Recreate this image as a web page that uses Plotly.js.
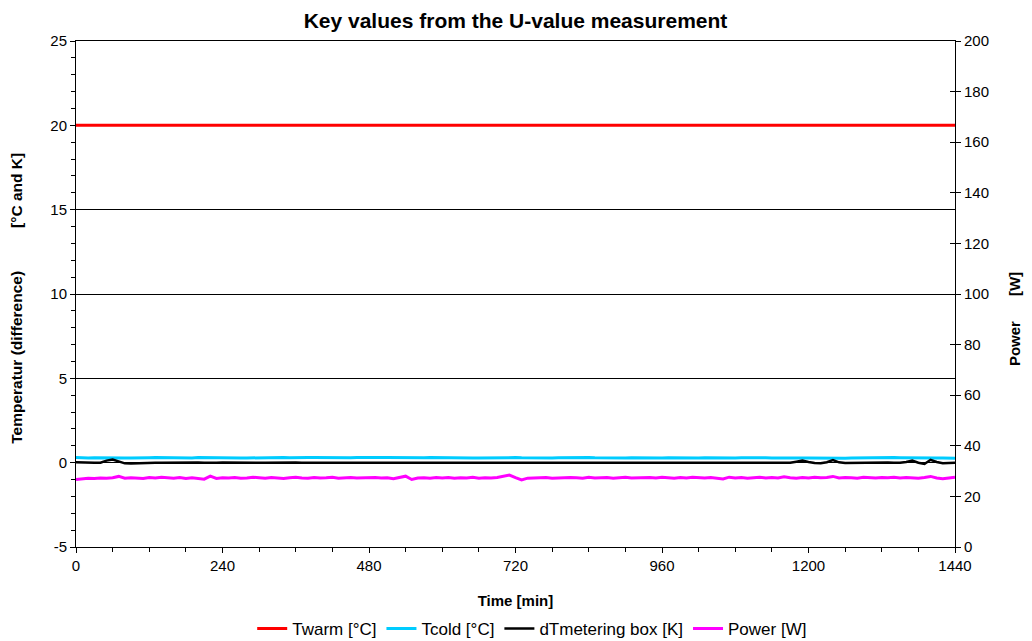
<!DOCTYPE html>
<html>
<head>
<meta charset="utf-8">
<script src="https://cdn.plot.ly/plotly-3.0.1.min.js"></script>
<style>html,body{margin:0;padding:0;background:#fff;}#chart{width:1032px;height:641px;}</style>
</head>
<body>
<div id="chart"></div>
<script>
const timeMin = [0,10,20,30,40,50,60,70,80,90,100,110,120,130,140,150,160,170,180,190,200,210,220,230,240,250,260,270,280,290,300,310,320,330,340,350,360,370,380,390,400,410,420,430,440,450,460,470,480,490,500,510,520,530,540,550,560,570,580,590,600,610,620,630,640,650,660,670,680,690,700,710,720,730,740,750,760,770,780,790,800,810,820,830,840,850,860,870,880,890,900,910,920,930,940,950,960,970,980,990,1000,1010,1020,1030,1040,1050,1060,1070,1080,1090,1100,1110,1120,1130,1140,1150,1160,1170,1180,1190,1200,1210,1220,1230,1240,1250,1260,1270,1280,1290,1300,1310,1320,1330,1340,1350,1360,1370,1380,1390,1400,1410,1420,1430,1440];

const twarm = [20.00,20.01,19.99,20.00,20.01,20.00,19.99,20.00,20.01,20.00,20.00,19.99,20.01,20.00,20.00,20.01,19.99,20.00,20.00,20.01,20.00,19.99,20.00,20.01,20.00,20.00,20.01,19.99,20.00,20.00,20.01,20.00,19.99,20.00,20.01,20.00,20.00,19.99,20.01,20.00,20.00,20.01,19.99,20.00,20.00,20.01,20.00,19.99,20.00,20.01,20.00,20.00,19.99,20.01,20.00,20.02,20.00,19.99,20.00,20.01,20.00,20.00,19.99,20.01,20.00,20.00,20.01,19.99,20.00,20.00,20.01,20.00,19.99,20.00,20.01,20.00,20.00,19.99,20.01,20.00,20.00,20.01,19.99,20.00,20.00,20.01,20.00,19.99,20.00,20.01,20.00,20.00,19.99,20.01,20.00,20.00,20.01,19.99,20.00,20.00,20.01,20.00,19.99,20.00,20.01,20.00,20.00,19.99,20.01,20.00,20.00,20.01,19.99,20.00,20.00,20.01,20.00,19.99,20.00,20.01,20.00,20.00,19.99,20.01,20.00,20.00,20.01,19.99,20.00,20.00,20.01,20.00,19.99,20.00,20.01,20.00,20.00,19.99,20.01,20.00,20.00,20.01,19.99,20.00,20.00];

const tcold = [0.30,0.28,0.27,0.29,0.28,0.27,0.28,0.29,0.27,0.28,0.27,0.28,0.29,0.30,0.29,
0.28,0.27,0.28,0.29,0.28,0.30,0.29,0.28,0.27,0.28,0.29,0.28,0.27,0.28,0.29,
0.30,0.29,0.28,0.29,0.30,0.29,0.28,0.29,0.30,0.31,0.30,0.29,0.30,0.29,0.28,
0.29,0.30,0.29,0.28,0.29,0.30,0.31,0.30,0.29,0.30,0.29,0.28,0.29,0.30,0.29,
0.28,0.29,0.30,0.29,0.28,0.27,0.28,0.29,0.28,0.27,0.28,0.29,0.30,0.29,0.28,
0.29,0.30,0.29,0.28,0.29,0.30,0.31,0.30,0.29,0.30,0.29,0.28,0.29,0.30,0.29,
0.28,0.29,0.28,0.29,0.30,0.29,0.28,0.29,0.28,0.27,0.28,0.29,0.28,0.29,0.28,
0.27,0.28,0.29,0.28,0.29,0.30,0.29,0.28,0.29,0.28,0.27,0.28,0.27,0.26,0.27,
0.28,0.27,0.28,0.29,0.28,0.27,0.26,0.27,0.28,0.29,0.28,0.27,0.28,0.29,0.30,
0.29,0.28,0.27,0.28,0.29,0.28,0.27,0.28,0.27,0.26];

const dtBox = [0.02,0.00,-0.01,0.00,0.00,0.12,0.18,0.05,-0.04,-0.05,-0.03,0.00,0.01,0.00,-0.01,
0.00,0.01,0.00,-0.01,0.00,0.01,0.00,-0.02,0.00,0.01,0.00,-0.01,0.00,0.01,0.00,
-0.01,0.00,0.01,0.00,-0.01,0.00,0.01,0.00,-0.01,0.00,0.01,0.00,-0.01,0.00,0.00,
0.01,0.00,-0.01,0.00,0.01,0.00,0.00,-0.01,0.00,0.01,0.00,-0.01,0.00,0.01,0.00,
0.00,-0.01,0.00,0.01,0.00,0.00,-0.01,0.00,0.01,0.00,0.00,0.02,0.03,0.01,0.00,
-0.01,0.00,0.01,0.00,-0.01,0.00,0.01,0.00,0.00,-0.01,0.00,0.01,0.00,-0.01,0.00,
0.01,0.00,0.00,-0.01,0.00,0.01,0.00,-0.01,0.00,0.00,0.01,0.00,-0.01,0.00,0.01,
0.00,-0.01,0.00,0.01,0.00,0.00,-0.01,0.00,0.01,0.00,0.00,-0.01,0.00,0.06,0.12,
0.04,-0.02,-0.03,0.03,0.15,0.02,-0.02,-0.01,0.00,0.01,0.00,-0.01,0.00,0.01,0.00,
-0.01,0.04,0.12,0.00,-0.08,0.17,0.04,-0.03,-0.02,0.00];

const powerW = [26.7,27.0,27.2,27.1,27.3,27.2,27.4,27.9,27.2,27.4,27.3,27.1,27.5,27.3,27.6,
27.3,27.2,27.5,27.1,27.4,27.0,26.8,28.0,27.1,27.4,27.3,27.5,27.2,27.3,27.6,
27.4,27.2,27.5,27.3,27.1,27.4,27.6,27.3,27.2,27.5,27.3,27.4,27.6,27.2,27.3,
27.5,27.3,27.4,27.2,27.5,27.3,27.4,27.0,27.4,28.0,26.7,27.3,27.4,27.2,27.5,
27.3,27.5,27.2,27.4,27.3,27.6,27.2,27.4,27.3,27.5,27.9,28.4,27.4,26.5,27.2,
27.4,27.3,27.5,27.2,27.4,27.3,27.5,27.4,27.2,27.6,27.3,27.4,27.5,27.2,27.3,
27.6,27.3,27.4,27.2,27.5,27.3,27.6,27.4,27.2,27.5,27.3,27.6,27.4,27.3,27.5,
27.2,26.9,27.6,27.3,27.5,27.2,27.4,27.6,27.3,27.5,27.3,27.8,27.4,27.2,27.5,
27.3,27.6,27.4,27.5,27.9,27.3,27.5,27.4,27.2,27.6,27.4,27.3,27.5,27.4,27.6,
27.3,27.5,27.4,27.2,27.5,27.9,27.3,27.0,27.3,27.6];

const seriesNames = ['Twarm [°C]', 'Tcold [°C]', 'dTmetering box [K]', 'Power [W]'];
const seriesColors = ['#FF0000', '#00CCFF', '#000000', '#FF00FF'];

const leftTickVals = [-5, 0, 5, 10, 15, 20, 25];
const leftTickText = ['-5', '0', '5', '10', '15', '20', '25'];

const FONT = '"Liberation Sans", Arial, sans-serif';
const SP = '\u00A0';

const traces = [
  {x: timeMin, y: twarm, name: seriesNames[0], type: 'scatter', mode: 'lines', line: {color: seriesColors[0], width: 3}},
  {x: timeMin, y: tcold, name: seriesNames[1], type: 'scatter', mode: 'lines', line: {color: seriesColors[1], width: 3}},
  {x: timeMin, y: dtBox, name: seriesNames[2], type: 'scatter', mode: 'lines', line: {color: seriesColors[2], width: 2.5}},
  {x: timeMin, y: powerW, name: seriesNames[3], type: 'scatter', mode: 'lines', yaxis: 'y2', line: {color: seriesColors[3], width: 3}},
  {x: [], y: [], type: 'scatter', mode: 'lines', yaxis: 'y3', showlegend: false, hoverinfo: 'skip'}
];

const layout = {
  width: 1032, height: 641,
  margin: {l: 76, r: 77, t: 41, b: 94, autoexpand: false},
  paper_bgcolor: '#ffffff', plot_bgcolor: '#ffffff',
  font: {family: FONT, size: 15, color: '#000'},
  showlegend: true,
  title: {text: '<b>Key values from the U-value measurement</b>', font: {family: FONT, size: 21, color: '#000'}, xref: 'paper', x: 0.5, xanchor: 'center', yref: 'container', y: 0.968, yanchor: 'middle'},
  xaxis: {
    range: [0, 1440], tickmode: 'linear', tick0: 0, dtick: 240,
    showgrid: false, zeroline: false,
    showline: true, linecolor: '#000', linewidth: 1, mirror: true,
    ticks: 'outside', ticklen: 5, tickcolor: '#000',
    minor: {dtick: 60, ticks: 'outside', ticklen: 4, tickcolor: '#000', showgrid: false},
    tickfont: {family: FONT, size: 15},
    title: {text: '<b>Time [min]</b>', font: {family: FONT, size: 15}, standoff: 22}
  },
  yaxis: {
    range: [-5, 25], tickmode: 'array', tickvals: leftTickVals, ticktext: leftTickText,
    showgrid: true, gridcolor: '#000', gridwidth: 1, zeroline: false,
    showline: true, linecolor: '#000', linewidth: 1,
    ticks: 'outside', ticklen: 5, tickcolor: '#000',
    minor: {dtick: 1, ticks: 'outside', ticklen: 4, tickcolor: '#000', showgrid: false},
    tickfont: {family: FONT, size: 15},
    title: {text: '<b>Temperatur (difference)' + SP.repeat(10) + '[°C and K]' + SP.repeat(2) + '</b>', font: {family: FONT, size: 15.5}, standoff: 23}
  },
  yaxis2: {
    range: [0, 200], tickmode: 'linear', tick0: 0, dtick: 20,
    overlaying: 'y', side: 'right', anchor: 'x',
    showgrid: false, zeroline: false,
    showline: true, linecolor: '#000', linewidth: 1,
    ticks: 'outside', ticklen: 5, tickcolor: '#000',
    tickfont: {family: FONT, size: 15},
    title: {text: '<b>Power' + SP.repeat(6) + '[W]' + SP.repeat(12) + '</b>', font: {family: FONT, size: 15}, standoff: 21}
  },
  yaxis3: {
    range: [0, 200], tickmode: 'linear', tick0: 0, dtick: 20,
    overlaying: 'y', side: 'right', anchor: 'x',
    showgrid: false, zeroline: false, showline: false,
    ticks: 'inside', ticklen: 5, tickcolor: '#000', showticklabels: false
  },
  legend: {
    orientation: 'h', x: 0.519, xanchor: 'center', y: -0.162, yanchor: 'middle',
    font: {family: FONT, size: 17, color: '#000'}, bgcolor: 'rgba(0,0,0,0)', itemwidth: 30
  }
};

Plotly.newPlot('chart', traces, layout, {staticPlot: true, displayModeBar: false});
</script>
</body>
</html>
